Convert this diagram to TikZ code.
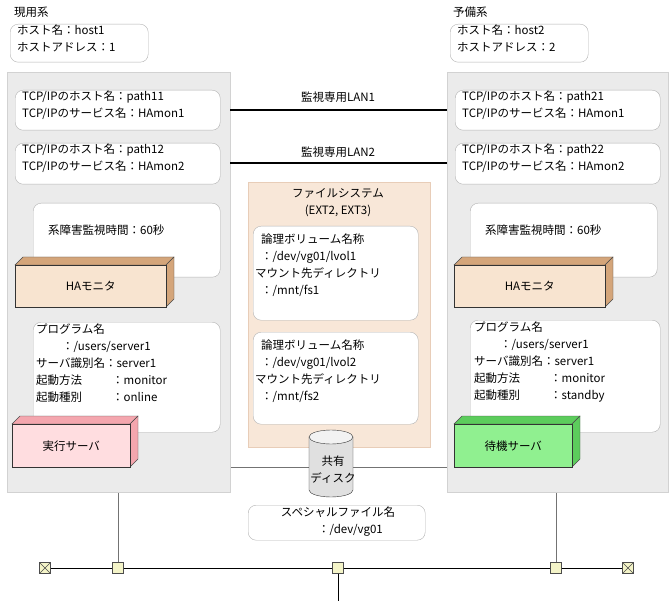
\documentclass[tikz,border=0pt]{standalone}
\usepackage{fontspec}
\setmainfont{Noto Sans CJK JP}
\definecolor{panelg}{HTML}{EBEBEB}
\definecolor{panelb}{HTML}{D2D2D2}
\definecolor{peach}{HTML}{F8E7D8}
\definecolor{peachb}{HTML}{E8CDB8}
\definecolor{hafront}{HTML}{F8E4D0}
\definecolor{haside}{HTML}{D4A57A}
\definecolor{exfront}{HTML}{FFDDE0}
\definecolor{exside}{HTML}{F4A6AE}
\definecolor{sbfront}{HTML}{90F090}
\definecolor{sbside}{HTML}{5CCC5C}
\definecolor{sqfill}{HTML}{F4F4C8}
\tikzset{
  panel/.style={draw=panelb,fill=panelg,line width=0.8pt,anchor=north west,inner sep=0},
  rbox/.style={draw=black!30,fill=white,rounded corners=8pt,anchor=north west,inner sep=0},
  txt/.style={font=\fontsize{11.5pt}{17pt}\selectfont,inner sep=0,align=left},
  lan/.style={line width=2.4pt},
  bus/.style={line width=0.9pt},
  drop/.style={draw=black!55,line width=0.9pt},
  sq/.style={draw=black!70,fill=sqfill,minimum size=11pt,inner sep=0},
  term/.style={sq,path picture={\draw[black!70] (path picture bounding box.south west)--(path picture bounding box.north east) (path picture bounding box.north west)--(path picture bounding box.south east);}},
}
% name, x, y, w, h, front, side, text
\newcommand{\boxthree}[8]{%
  \fill[#7,draw=black!70] (#2,#3)--++(8,-8)--++(#4,0)--++(-8,8)--cycle;
  \fill[#7,draw=black!70] (#2+#4,#3)--++(8,-8)--++(0,#5)--++(-8,8)--cycle;
  \node[draw=black!80,fill=#6,anchor=north west,minimum width=#4pt,minimum height=#5pt,inner sep=0,font=\fontsize{11.5pt}{17pt}\selectfont] (#1) at (#2,#3) {#8};
}
\begin{document}
\begin{tikzpicture}[x=1pt,y=-1pt]
\useasboundingbox (0,0) rectangle (671,601);
% panels
\node[panel,minimum width=223pt,minimum height=420pt] (lp) at (7,72) {};
\node[panel,minimum width=221pt,minimum height=420pt] (rp) at (447,72) {};
\node[panel,draw=peachb,fill=peach,minimum width=182pt,minimum height=265pt] (fs) at (248,182) {};
% system titles and host boxes
\node[txt,anchor=west] (lt) at (14,12) {現用系};
\node[txt,anchor=west] (rt) at (453,12) {予備系};
\node[rbox,minimum width=138pt,minimum height=38pt] (lh) at (10,24) {};
\node[txt,anchor=north west] at (17,25) {ホスト名：host1\\ホストアドレス：1};
\node[rbox,minimum width=138pt,minimum height=38pt] (rh) at (450,24) {};
\node[txt,anchor=north west] at (457,25) {ホスト名：host2\\ホストアドレス：2};
% TCP boxes
\node[rbox,minimum width=205pt,minimum height=40pt] (l1) at (15,90) {};
\node[txt,anchor=north west] at (22,91) {TCP/IPのホスト名：path11\\TCP/IPのサービス名：HAmon1};
\node[rbox,minimum width=205pt,minimum height=40pt] (r1) at (455,90) {};
\node[txt,anchor=north west] at (462,91) {TCP/IPのホスト名：path21\\TCP/IPのサービス名：HAmon1};
\node[rbox,minimum width=205pt,minimum height=41pt] (l2) at (15,143) {};
\node[txt,anchor=north west] at (22,144) {TCP/IPのホスト名：path12\\TCP/IPのサービス名：HAmon2};
\node[rbox,minimum width=205pt,minimum height=41pt] (r2) at (455,143) {};
\node[txt,anchor=north west] at (462,144) {TCP/IPのホスト名：path22\\TCP/IPのサービス名：HAmon2};
% LAN lines
\draw[lan] (230,110) -- (447,110);
\node[txt] (lan1) at (338,97) {監視専用LAN1};
\draw[lan] (230,163) -- (447,163);
\node[txt] (lan2) at (338,152) {監視専用LAN2};
% monitor time boxes
\node[rbox,minimum width=187pt,minimum height=74pt] (lm) at (33,203) {};
\node[txt,anchor=west] at (48,230) {系障害監視時間：60秒};
\node[rbox,minimum width=187pt,minimum height=74pt] (rm) at (470,203) {};
\node[txt,anchor=west] at (485,230) {系障害監視時間：60秒};
\boxthree{lha}{15}{265}{151}{42}{hafront}{haside}{HAモニタ}
\boxthree{rha}{454}{265}{151}{42}{hafront}{haside}{HAモニタ}
% program boxes
\node[rbox,minimum width=187pt,minimum height=110pt] (lpg) at (33,322) {};
\node[txt,anchor=north west] at (36,324) {プログラム名\\\hspace*{26pt}：/users/server1\\サーバ識別名：server1\\起動方法\hspace*{30pt}：monitor\\起動種別\hspace*{30pt}：online};
\node[rbox,minimum width=190pt,minimum height=112pt] (rpg) at (470,320) {};
\node[txt,anchor=north west] at (474,322) {プログラム名\\\hspace*{26pt}：/users/server1\\サーバ識別名：server1\\起動方法\hspace*{30pt}：monitor\\起動種別\hspace*{30pt}：standby};
\boxthree{lsv}{12}{424}{118}{43}{exfront}{exside}{実行サーバ}
\boxthree{rsv}{454}{424}{118}{43}{sbfront}{sbside}{待機サーバ}
% file system
\node[txt,align=center] (fst) at (338,203) {ファイルシステム\\(EXT2, EXT3)};
\node[rbox,minimum width=165pt,minimum height=94pt] (lv1) at (253,226) {};
\node[txt,anchor=north west] at (255,234) {\hspace*{6pt}論理ボリューム名称\\\hspace*{6pt}：/dev/vg01/lvol1\\マウント先ディレクトリ\\\hspace*{6pt}：/mnt/fs1};
\node[rbox,minimum width=165pt,minimum height=92pt] (lv2) at (253,332) {};
\node[txt,anchor=north west] at (255,340) {\hspace*{6pt}論理ボリューム名称\\\hspace*{6pt}：/dev/vg01/lvol2\\マウント先ディレクトリ\\\hspace*{6pt}：/mnt/fs2};
% shared disk line and cylinder
\draw[drop] (lp.east |- 0,467) -- (rp.west |- 0,467);
\fill[black!12,draw=black!80] (309,437) -- (309,490) arc[start angle=180,end angle=360,x radius=22pt,y radius=7pt] -- (353,437) -- cycle;
\fill[black!5,draw=black!80] (331,437) ellipse[x radius=22pt,y radius=7pt];
\node[txt,align=center] (disk) at (333,470) {共有\\ディスク};
% special file
\node[rbox,minimum width=177pt,minimum height=35pt] (sp) at (248,505) {};
\node[txt,align=center] at (338,522) {スペシャルファイル名\\\hspace*{25pt}：/dev/vg01};
% bus
\node[term] (t1) at (45,568) {};
\node[sq] (s1) at (118,568) {};
\node[sq] (s2) at (338,568) {};
\node[sq] (s3) at (556,568) {};
\node[term] (t2) at (628,568) {};
\draw[bus] (t1) -- (s1) -- (s2) -- (s3) -- (t2);
\draw[drop] (s1) -- (s1 |- lp.south);
\draw[drop] (s3) -- (s3 |- rp.south);
\coordinate (bend) at (338,601);
\draw[bus] (s2) -- (bend);
\end{tikzpicture}
\end{document}
